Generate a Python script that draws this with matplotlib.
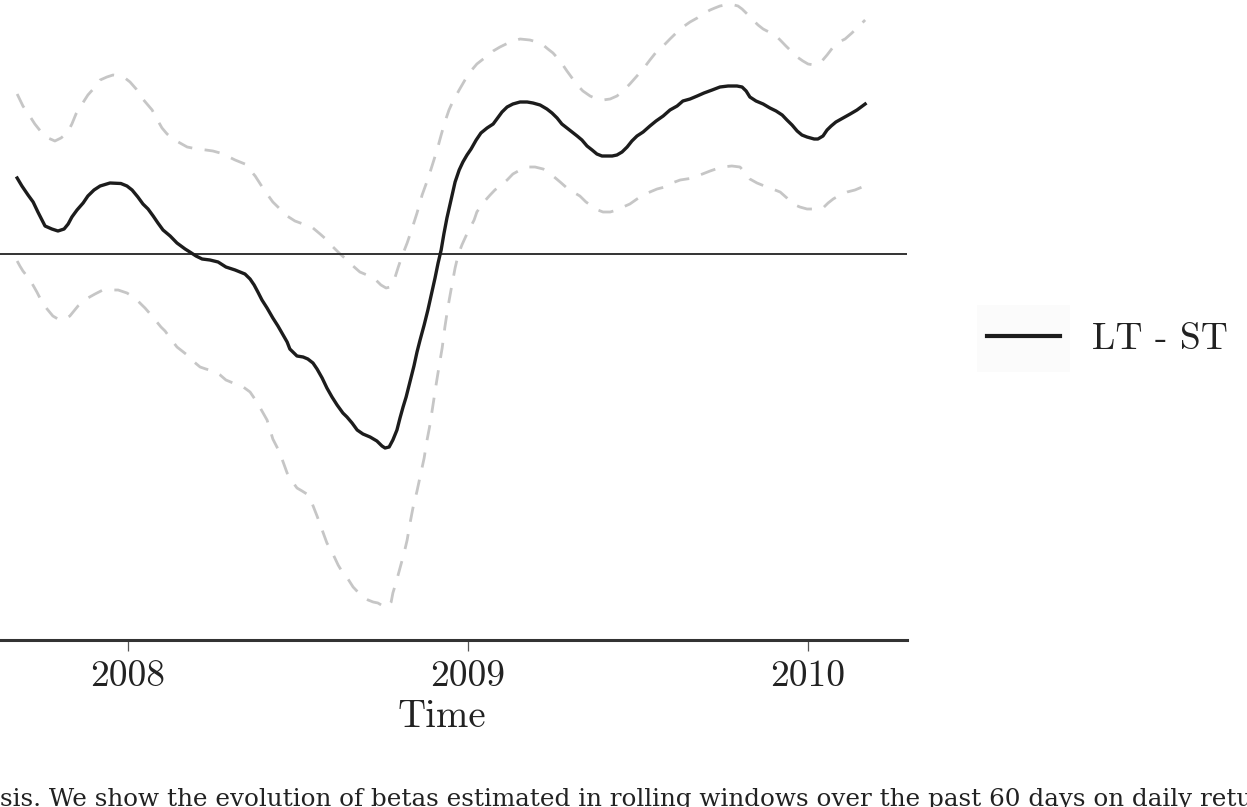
import matplotlib
matplotlib.use('Agg')
import matplotlib.pyplot as plt
from matplotlib.patches import Rectangle

plt.rcParams['font.family'] = 'cmr10'
plt.rcParams['axes.formatter.use_mathtext'] = True

# LT - ST beta difference (decimal year, value)
t_mid = [2007.674, 2007.688, 2007.706, 2007.721, 2007.735, 2007.756, 2007.776, 2007.794,
         2007.812, 2007.824, 2007.835, 2007.850, 2007.868, 2007.882, 2007.900, 2007.918,
         2007.947, 2007.979, 2007.997, 2008.012, 2008.029, 2008.044, 2008.059, 2008.074,
         2008.088, 2008.103, 2008.124, 2008.144, 2008.168, 2008.182, 2008.200, 2008.218,
         2008.241, 2008.265, 2008.288, 2008.315, 2008.344, 2008.359, 2008.371, 2008.382,
         2008.394, 2008.409, 2008.426, 2008.441, 2008.456, 2008.468, 2008.476, 2008.497,
         2008.515, 2008.529, 2008.544, 2008.556, 2008.571, 2008.585, 2008.600, 2008.615,
         2008.632, 2008.644, 2008.659, 2008.674, 2008.691, 2008.712, 2008.732, 2008.747,
         2008.756, 2008.768, 2008.779, 2008.791, 2008.800, 2008.809, 2008.818, 2008.829,
         2008.841, 2008.850, 2008.859, 2008.871, 2008.882, 2008.894, 2008.903, 2008.912,
         2008.921, 2008.929, 2008.938, 2008.950, 2008.962, 2008.974, 2008.985, 2008.997,
         2009.009, 2009.024, 2009.038, 2009.056, 2009.074, 2009.085, 2009.100, 2009.115,
         2009.132, 2009.153, 2009.174, 2009.191, 2009.212, 2009.232, 2009.247, 2009.262,
         2009.276, 2009.291, 2009.306, 2009.321, 2009.335, 2009.350, 2009.365, 2009.379,
         2009.394, 2009.409, 2009.424, 2009.438, 2009.453, 2009.468, 2009.482, 2009.497,
         2009.515, 2009.535, 2009.553, 2009.574, 2009.594, 2009.615, 2009.632, 2009.653,
         2009.674, 2009.694, 2009.718, 2009.741, 2009.765, 2009.791, 2009.806, 2009.818,
         2009.829, 2009.847, 2009.868, 2009.888, 2009.906, 2009.924, 2009.938, 2009.953,
         2009.968, 2009.982, 2009.997, 2010.018, 2010.029, 2010.044, 2010.056, 2010.068,
         2010.082, 2010.103, 2010.124, 2010.144, 2010.168]
v_mid = [0.304, 0.272, 0.236, 0.208, 0.168, 0.112, 0.100, 0.092,
         0.100, 0.120, 0.148, 0.176, 0.204, 0.232, 0.256, 0.272,
         0.284, 0.282, 0.272, 0.256, 0.228, 0.200, 0.180, 0.152,
         0.124, 0.096, 0.072, 0.044, 0.020, 0.008, -0.008, -0.020,
         -0.024, -0.032, -0.052, -0.064, -0.080, -0.100, -0.124, -0.152,
         -0.184, -0.216, -0.256, -0.288, -0.324, -0.352, -0.380, -0.408,
         -0.412, -0.420, -0.436, -0.460, -0.496, -0.536, -0.572, -0.604,
         -0.636, -0.652, -0.676, -0.704, -0.720, -0.732, -0.748, -0.768,
         -0.776, -0.772, -0.744, -0.704, -0.656, -0.612, -0.572, -0.512,
         -0.448, -0.392, -0.344, -0.284, -0.224, -0.152, -0.096, -0.036,
         0.016, 0.080, 0.144, 0.216, 0.288, 0.336, 0.368, 0.396,
         0.420, 0.456, 0.484, 0.504, 0.520, 0.540, 0.568, 0.588,
         0.600, 0.608, 0.608, 0.604, 0.596, 0.580, 0.564, 0.544,
         0.520, 0.504, 0.488, 0.472, 0.456, 0.432, 0.416, 0.400,
         0.392, 0.392, 0.392, 0.396, 0.408, 0.428, 0.452, 0.472,
         0.488, 0.512, 0.532, 0.552, 0.576, 0.592, 0.612, 0.620,
         0.632, 0.644, 0.656, 0.668, 0.672, 0.672, 0.668, 0.652,
         0.628, 0.612, 0.600, 0.584, 0.572, 0.556, 0.536, 0.516,
         0.492, 0.476, 0.468, 0.460, 0.460, 0.472, 0.496, 0.512,
         0.528, 0.544, 0.560, 0.576, 0.600]

# upper confidence band
t_up = [2007.674, 2007.691, 2007.709, 2007.726, 2007.747, 2007.765, 2007.785, 2007.803,
        2007.821, 2007.835, 2007.847, 2007.865, 2007.882, 2007.903, 2007.918, 2007.938,
        2007.956, 2007.976, 2007.991, 2008.006, 2008.024, 2008.041, 2008.056, 2008.071,
        2008.085, 2008.100, 2008.115, 2008.132, 2008.153, 2008.174, 2008.203, 2008.229,
        2008.250, 2008.271, 2008.291, 2008.315, 2008.344, 2008.359, 2008.374, 2008.391,
        2008.409, 2008.426, 2008.447, 2008.468, 2008.491, 2008.515, 2008.544, 2008.565,
        2008.585, 2008.603, 2008.624, 2008.644, 2008.662, 2008.682, 2008.703, 2008.726,
        2008.744, 2008.759, 2008.771, 2008.782, 2008.794, 2008.806, 2008.821, 2008.835,
        2008.850, 2008.865, 2008.882, 2008.897, 2008.909, 2008.921, 2008.932, 2008.944,
        2008.956, 2008.974, 2008.991, 2009.006, 2009.026, 2009.056, 2009.074, 2009.094,
        2009.124, 2009.153, 2009.182, 2009.203, 2009.221, 2009.235, 2009.250, 2009.271,
        2009.291, 2009.306, 2009.321, 2009.338, 2009.359, 2009.379, 2009.397, 2009.418,
        2009.438, 2009.456, 2009.476, 2009.497, 2009.515, 2009.535, 2009.556, 2009.574,
        2009.594, 2009.615, 2009.632, 2009.653, 2009.674, 2009.691, 2009.712, 2009.726,
        2009.741, 2009.771, 2009.794, 2009.806, 2009.821, 2009.838, 2009.853, 2009.868,
        2009.885, 2009.903, 2009.918, 2009.935, 2009.950, 2009.968, 2009.985, 2010.000,
        2010.018, 2010.029, 2010.041, 2010.056, 2010.074, 2010.091, 2010.109, 2010.129,
        2010.147, 2010.168]
v_up = [0.640, 0.592, 0.556, 0.520, 0.484, 0.464, 0.452, 0.464,
        0.484, 0.520, 0.560, 0.600, 0.636, 0.668, 0.696, 0.708,
        0.716, 0.712, 0.704, 0.688, 0.660, 0.624, 0.600, 0.576,
        0.540, 0.504, 0.480, 0.460, 0.444, 0.428, 0.420, 0.416,
        0.412, 0.404, 0.392, 0.376, 0.360, 0.336, 0.312, 0.276,
        0.240, 0.208, 0.180, 0.152, 0.132, 0.120, 0.104, 0.080,
        0.056, 0.028, 0.000, -0.024, -0.048, -0.072, -0.084, -0.100,
        -0.124, -0.136, -0.132, -0.108, -0.056, -0.008, 0.044, 0.100,
        0.164, 0.236, 0.300, 0.364, 0.416, 0.476, 0.528, 0.576,
        0.612, 0.656, 0.696, 0.728, 0.760, 0.792, 0.812, 0.828,
        0.848, 0.860, 0.856, 0.848, 0.836, 0.820, 0.804, 0.772,
        0.732, 0.704, 0.676, 0.652, 0.632, 0.620, 0.616, 0.620,
        0.632, 0.652, 0.680, 0.712, 0.740, 0.776, 0.812, 0.832,
        0.860, 0.888, 0.908, 0.928, 0.944, 0.960, 0.976, 0.984,
        0.992, 1.000, 0.992, 0.980, 0.960, 0.936, 0.916, 0.900,
        0.888, 0.876, 0.856, 0.832, 0.812, 0.788, 0.772, 0.760,
        0.756, 0.760, 0.772, 0.796, 0.828, 0.848, 0.860, 0.884,
        0.908, 0.936]

# lower confidence band
t_lo = [2007.674, 2007.682, 2007.691, 2007.712, 2007.732, 2007.747, 2007.762, 2007.779,
        2007.794, 2007.809, 2007.829, 2007.853, 2007.868, 2007.882, 2007.903, 2007.926,
        2007.947, 2007.971, 2007.997, 2008.021, 2008.035, 2008.050, 2008.068, 2008.085,
        2008.097, 2008.109, 2008.126, 2008.144, 2008.159, 2008.174, 2008.191, 2008.212,
        2008.229, 2008.250, 2008.271, 2008.288, 2008.309, 2008.335, 2008.359, 2008.379,
        2008.394, 2008.409, 2008.418, 2008.426, 2008.441, 2008.453, 2008.468, 2008.482,
        2008.497, 2008.512, 2008.526, 2008.541, 2008.556, 2008.571, 2008.585, 2008.600,
        2008.618, 2008.632, 2008.647, 2008.662, 2008.676, 2008.691, 2008.706, 2008.721,
        2008.735, 2008.750, 2008.765, 2008.774, 2008.779, 2008.788, 2008.800, 2008.812,
        2008.821, 2008.829, 2008.838, 2008.850, 2008.859, 2008.871, 2008.879, 2008.888,
        2008.897, 2008.906, 2008.915, 2008.924, 2008.932, 2008.941, 2008.950, 2008.962,
        2008.971, 2008.982, 2008.994, 2009.006, 2009.018, 2009.026, 2009.044, 2009.065,
        2009.079, 2009.094, 2009.115, 2009.132, 2009.153, 2009.174, 2009.197, 2009.221,
        2009.235, 2009.250, 2009.271, 2009.291, 2009.309, 2009.329, 2009.347, 2009.368,
        2009.382, 2009.397, 2009.418, 2009.438, 2009.456, 2009.476, 2009.497, 2009.515,
        2009.535, 2009.556, 2009.579, 2009.600, 2009.624, 2009.644, 2009.662, 2009.682,
        2009.712, 2009.729, 2009.747, 2009.776, 2009.800, 2009.815, 2009.829, 2009.850,
        2009.879, 2009.903, 2009.918, 2009.938, 2009.956, 2009.976, 2009.997, 2010.021,
        2010.044, 2010.059, 2010.074, 2010.094, 2010.115, 2010.138, 2010.159]
v_lo = [-0.028, -0.048, -0.068, -0.104, -0.152, -0.192, -0.220, -0.248,
        -0.260, -0.264, -0.248, -0.208, -0.192, -0.176, -0.160, -0.144,
        -0.144, -0.144, -0.156, -0.176, -0.196, -0.216, -0.244, -0.272,
        -0.292, -0.308, -0.340, -0.372, -0.388, -0.404, -0.428, -0.452,
        -0.460, -0.468, -0.484, -0.504, -0.516, -0.528, -0.552, -0.592,
        -0.628, -0.664, -0.704, -0.740, -0.780, -0.820, -0.876, -0.908,
        -0.936, -0.948, -0.960, -0.996, -1.048, -1.104, -1.156, -1.192,
        -1.244, -1.276, -1.300, -1.332, -1.352, -1.372, -1.384, -1.392,
        -1.396, -1.408, -1.412, -1.392, -1.356, -1.316, -1.256, -1.196,
        -1.144, -1.080, -1.016, -0.948, -0.892, -0.816, -0.748, -0.684,
        -0.604, -0.524, -0.448, -0.376, -0.292, -0.212, -0.144, -0.056,
        -0.004, 0.036, 0.072, 0.104, 0.136, 0.168, 0.204, 0.236,
        0.256, 0.272, 0.296, 0.320, 0.336, 0.348, 0.348, 0.340,
        0.328, 0.312, 0.288, 0.264, 0.248, 0.232, 0.208, 0.188,
        0.176, 0.168, 0.168, 0.176, 0.188, 0.200, 0.220, 0.236,
        0.248, 0.260, 0.268, 0.284, 0.296, 0.300, 0.304, 0.316,
        0.332, 0.340, 0.348, 0.352, 0.348, 0.324, 0.300, 0.284,
        0.268, 0.256, 0.248, 0.224, 0.200, 0.188, 0.180, 0.180,
        0.184, 0.204, 0.220, 0.236, 0.248, 0.256, 0.268]

years = [2008, 2009, 2010]
caption = ('sis. We show the evolution of betas estimated in rolling windows '
           'over the past 60 days on daily retu')

W, H = 1247, 807
fig = plt.figure(figsize=(W / 100, H / 100), dpi=100)
ax = fig.add_axes([-23 / W, (H - 640) / H, 930 / W, 640 / H])

ax.plot(t_up, v_up, color='#c6c6c6', lw=2.0, ls=(0, (5.5, 4.5)))
ax.plot(t_lo, v_lo, color='#c6c6c6', lw=2.0, ls=(0, (5.5, 4.5)))
ax.axhline(0, color='#333333', lw=1.4)
ax.plot(t_mid, v_mid, color='#1c1c1c', lw=2.4, label='LT - ST')

ax.set_xlim(2007.5559, 2010.2911)
ax.set_ylim(-1.544, 1.016)

for s in ['top', 'right', 'left']:
    ax.spines[s].set_visible(False)
ax.spines['bottom'].set_color('#333333')
ax.spines['bottom'].set_linewidth(2.2)
ax.set_yticks([])
ax.set_xticks(years)
ax.set_xticklabels([str(y) for y in years])
ax.tick_params(axis='x', length=8, width=0.9, color='#555555', pad=6,
               labelsize=27, labelcolor='#222222')
ax.set_xlabel('Time', fontsize=28, color='#222222', labelpad=5)

fig.patches.append(Rectangle((977 / W, 1 - 372 / H), 93 / W, 67 / H,
                             transform=fig.transFigure, facecolor='#fbfbfb',
                             edgecolor='none', zorder=0))
fig.legend(loc='center left', bbox_to_anchor=(987 / W, 1 - 339 / H),
           frameon=False, fontsize=27, handlelength=1.95, handletextpad=0.85,
           borderpad=0, borderaxespad=0, labelcolor='#222222')
for line in fig.legends[0].get_lines():
    line.set_linewidth(3.0)

fig.text(0, (H - 806) / H, caption, family='DejaVu Serif', fontsize=17.7,
         color='#222222', ha='left', va='baseline')

fig.savefig('out.png', dpi=100)
